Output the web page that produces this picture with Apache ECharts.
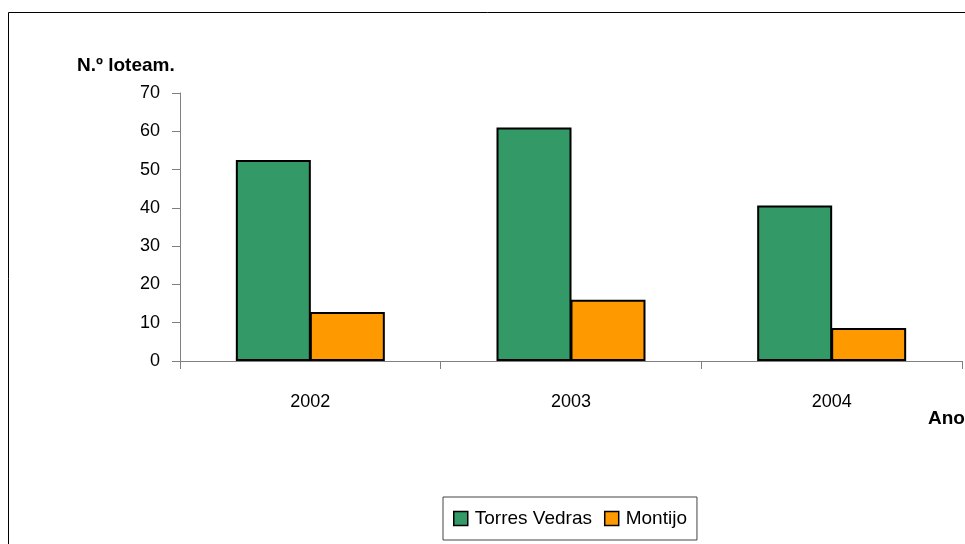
<!DOCTYPE html>
<html>
<head>
<meta charset="utf-8">
<script src="https://cdn.jsdelivr.net/npm/echarts@6/dist/echarts.min.js"></script>
<style>
  html, body { margin: 0; padding: 0; background: #fff; }
  #chart { width: 965px; height: 544px; }
</style>
</head>
<body>
<div id="chart"></div>
<script>
// Loteamentos por ano e concelho
const years = ['2002', '2003', '2004'];
const torresVedras = [52.5, 61, 40.6];
const montijo = [12.8, 16, 8.6];
const yTicks = { min: 0, max: 70, interval: 10 };

const chart = echarts.init(document.getElementById('chart'), null, { renderer: 'canvas' });

const axisGray = '#808080';
const font = "'Liberation Sans', Arial, sans-serif";

chart.setOption({
  animation: false,
  backgroundColor: '#fff',
  grid: { left: 180, top: 93, right: 3, bottom: 183, containLabel: false },
  xAxis: {
    type: 'category',
    data: years,
    boundaryGap: true,
    axisLine: { lineStyle: { color: axisGray, width: 1 } },
    axisTick: { show: true, alignWithLabel: false, length: 8, lineStyle: { color: axisGray } },
    axisLabel: { color: '#000', fontFamily: font, fontSize: 18, margin: 32 },
    splitLine: { show: false }
  },
  yAxis: {
    type: 'value',
    min: yTicks.min,
    max: yTicks.max,
    interval: yTicks.interval,
    axisLine: { show: true, lineStyle: { color: axisGray, width: 1 } },
    axisTick: { show: true, length: 8, lineStyle: { color: axisGray } },
    axisLabel: { color: '#000', fontFamily: font, fontSize: 18, margin: 20 },
    splitLine: { show: false }
  },
  legend: {
    data: ['Torres Vedras', 'Montijo'],
    left: 443,
    top: 497,
    orient: 'horizontal',
    icon: 'rect',
    itemWidth: 14,
    itemHeight: 14,
    itemGap: 12,
    padding: [12, 10, 12, 10],
    borderColor: '#444',
    borderWidth: 1,
    backgroundColor: '#fff',
    textStyle: { color: '#000', fontFamily: font, fontSize: 19, padding: [0, 0, 0, 2] },
    itemStyle: { borderColor: '#000', borderWidth: 1.5 }
  },
  series: [
    {
      name: 'Torres Vedras',
      type: 'bar',
      data: torresVedras,
      barWidth: 75,
      barGap: '-1.35%',
      itemStyle: { color: '#339966', borderColor: '#000', borderWidth: 2 }
    },
    {
      name: 'Montijo',
      type: 'bar',
      data: montijo,
      barWidth: 75,
      barGap: '-1.35%',
      itemStyle: { color: '#FF9900', borderColor: '#000', borderWidth: 2 }
    }
  ],
  graphic: [
    {
      type: 'rect',
      silent: true,
      shape: { x: 8.5, y: 12.5, width: 1000, height: 600 },
      style: { fill: 'none', stroke: '#000', lineWidth: 1 },
      z: -1
    },
    {
      type: 'text',
      x: 77,
      y: 66,
      style: {
        text: 'N.º loteam.',
        font: "bold 19px 'Liberation Sans', Arial, sans-serif",
        fill: '#000',
        verticalAlign: 'middle'
      }
    },
    {
      type: 'text',
      x: 928,
      y: 419,
      style: {
        text: 'Ano',
        font: "bold 19px 'Liberation Sans', Arial, sans-serif",
        fill: '#000',
        verticalAlign: 'middle'
      }
    }
  ]
});
</script>
</body>
</html>
